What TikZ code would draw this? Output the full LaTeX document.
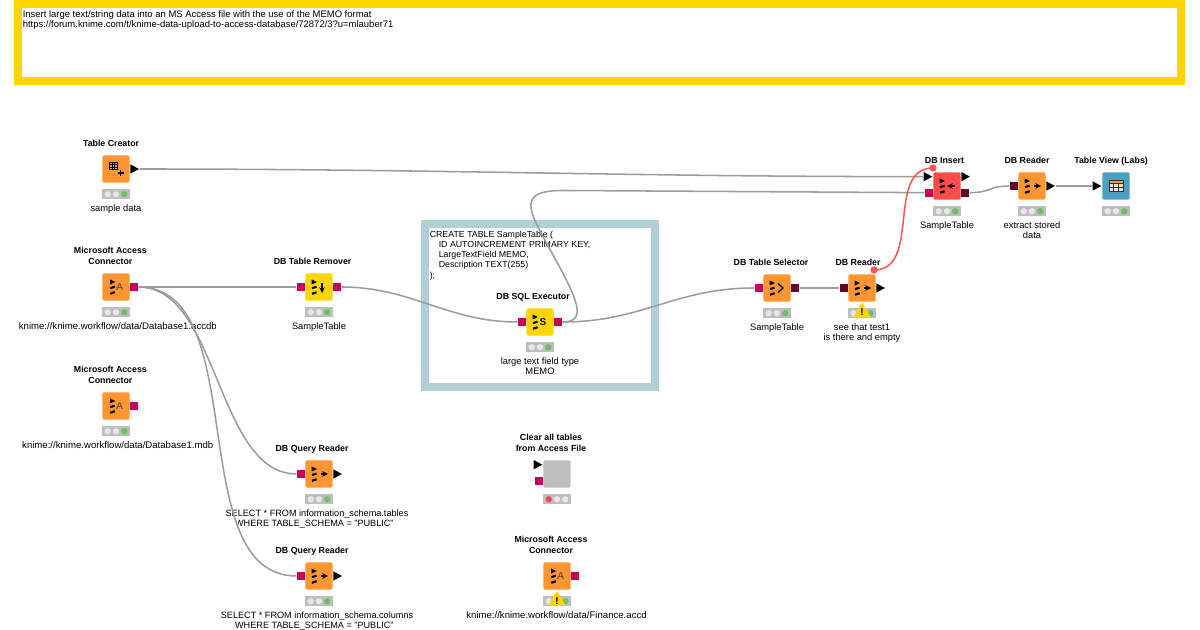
\documentclass[tikz,border=0pt]{standalone}
\usepackage{fontspec}
\setmainfont{Liberation Sans}
\usetikzlibrary{positioning,shapes.geometric}

\definecolor{nodeorange}{HTML}{FF9632}
\definecolor{nodeyellow}{HTML}{FFD500}
\definecolor{nodered}{HTML}{FF4B4B}
\definecolor{nodeblue}{HTML}{4C9FBF}
\definecolor{nodegrey}{HTML}{BEBEBE}
\definecolor{dbpink}{HTML}{C9005B}
\definecolor{dbdark}{HTML}{660033}
\definecolor{notesea}{HTML}{B3CFD6}
\definecolor{lampoff}{HTML}{E6E6E6}
\definecolor{lampgreen}{HTML}{6CC05F}
\definecolor{lampred}{HTML}{F0484E}
\definecolor{wire}{HTML}{9C9C9C}
\definecolor{flowred}{HTML}{FF5555}

% status bar under a node: name, then the three lamps
\newcommand{\lights}[4]{
    \node[lightbar] (#1st) [below=4.5pt of #1] {};
    \node[lamp,fill=#2] (#1la) at ([xshift=-6.2pt]#1st.center) {};
    \node[lamp,fill=#3] (#1lb) at (#1st.center) {};
    \node[lamp,fill=#4] (#1lc) at ([xshift=6.2pt]#1st.center) {};
}

\tikzset{
    knode/.style={rectangle,rounded corners=1.2pt,minimum size=20.6pt,inner sep=0pt},
    title/.style={font=\fontsize{6.6}{8.25}\selectfont\bfseries,align=center,inner sep=0pt,
        execute at begin node=\strut,above=3.5pt of #1},
    caption/.style={font=\fontsize{7}{7.7}\selectfont,align=center,inner sep=0pt,
        execute at begin node=\strut,below=3.6pt of #1},
    pathtext/.style={font=\fontsize{7.2}{7.7}\selectfont},
    sqltext/.style={font=\fontsize{6.85}{7.7}\selectfont},
    lightbar/.style={rectangle,fill=nodegrey,minimum width=20.6pt,minimum height=7.5pt,inner sep=0pt},
    lamp/.style={circle,minimum size=4.8pt,inner sep=0pt},
    dbport/.style={rectangle,minimum size=6pt,inner sep=0pt},
    tabport/.style={isosceles triangle,isosceles triangle stretches,minimum width=7pt,
        minimum height=6.5pt,inner sep=0pt,fill=black},
    varport/.style={circle,fill=flowred,minimum size=5.4pt,inner sep=0pt},
    conn/.style={draw=wire,line width=1.15pt},
    warnsign/.style={isosceles triangle,isosceles triangle stretches,shape border rotate=90,
        minimum width=13pt,minimum height=11pt,inner sep=0pt,fill=nodeyellow,rounded corners=.8pt},
    warnmark/.style={font=\fontsize{7.5}{7.5}\selectfont\bfseries,inner sep=0pt},
    dbstack/.pic={
        \fill (-7.3,-7.5) -- (-2,-5) -- (-7.3,-2.5) -- cycle;
        \draw[line width=1.6pt] (-7,1.2) -- (-2.4,-.4);
        \draw[line width=1.6pt] (-7,6.8) -- (-2.4,5.2);
    },
    gridglyph/.pic={
        \draw[line width=.5pt] (-6.5,-7) rectangle (1,.5)
            (-4,-7) -- (-4,.5) (-1.5,-7) -- (-1.5,.5)
            (-6.5,-4.5) -- (1,-4.5) (-6.5,-2) -- (1,-2);
    },
}

\begin{document}
\begin{tikzpicture}[x=0.75pt,y=-0.75pt]
    \path[fill=white,use as bounding box] (0,0) rectangle (1200,630);

    % annotations
    \node[draw=nodeyellow,line width=6.2pt,minimum width=872.2pt,minimum height=57.7pt,inner sep=0pt] (memonote) at (599.5,42.5) {};
    \node[font=\fontsize{7.1}{7.7}\selectfont,align=left,anchor=north west,inner sep=0pt,execute at begin node=\strut] (memotext) at (22.5,10.5) {Insert large text/string data into an MS Access file with the use of the MEMO format\\https://forum.knime.com/t/knime-data-upload-to-access-database/72872/3?u=mlauber71};
    \node[draw=notesea,line width=6.2pt,minimum width=172.5pt,minimum height=122.5pt,inner sep=0pt] (sqlnote) at (540,305.5) {};
    \node[font=\fontsize{6.6}{7.7}\selectfont,align=left,anchor=north west,inner sep=0pt,execute at begin node=\strut] (sqlcode) at (429.5,230.5) {CREATE TABLE SampleTable (\\\hspace*{6.75pt}ID AUTOINCREMENT PRIMARY KEY,\\\hspace*{6.75pt}LargeTextField MEMO,\\\hspace*{6.75pt}Description TEXT(255)\\);};

    % nodes
    \node[knode,fill=nodeorange] (creator) at (116,169) {};
    \node[knode,fill=nodeorange] (access) at (116,287) {};
    \node[knode,fill=nodeorange] (accessmdb) at (116,406) {};
    \node[knode,fill=nodeyellow] (remover) at (319,287) {};
    \node[knode,fill=nodeyellow] (executor) at (540,322) {};
    \node[knode,fill=nodeorange] (selector) at (777,288) {};
    \node[knode,fill=nodeorange] (reader) at (862,288) {};
    \node[knode,fill=nodered] (insert) at (947,186) {};
    \node[knode,fill=nodeorange] (stored) at (1032,186) {};
    \node[knode,fill=nodeblue] (view) at (1116,186) {};
    \node[knode,fill=nodeorange] (tables) at (319,474) {};
    \node[knode,fill=nodeorange] (columns) at (319,576) {};
    \node[knode,fill=nodegrey] (clear) at (557,474) {};
    \node[knode,fill=nodeorange] (finance) at (557,576) {};

    % ports
    \node[tabport,anchor=west] (creatorout) at (creator.east) {};
    \node[dbport,fill=dbpink,anchor=west] (accessout) at (access.east) {};
    \node[dbport,fill=dbpink,anchor=west] (accessmdbout) at (accessmdb.east) {};
    \node[dbport,fill=dbpink,anchor=east] (removerin) at (remover.west) {};
    \node[dbport,fill=dbpink,anchor=west] (removerout) at (remover.east) {};
    \node[dbport,fill=dbpink,anchor=east] (executorin) at (executor.west) {};
    \node[dbport,fill=dbpink,anchor=west] (executorout) at (executor.east) {};
    \node[dbport,fill=dbpink,anchor=east] (selectorin) at (selector.west) {};
    \node[dbport,fill=dbdark,anchor=west] (selectorout) at (selector.east) {};
    \node[dbport,fill=dbdark,anchor=east] (readerin) at (reader.west) {};
    \node[tabport,anchor=west] (readerout) at (reader.east) {};
    \node[tabport,anchor=east] (inserttab) at ([yshift=7pt]insert.west) {};
    \node[dbport,fill=dbpink,anchor=east] (insertdb) at ([yshift=-5pt]insert.west) {};
    \node[tabport,anchor=west] (inserttabout) at ([yshift=7pt]insert.east) {};
    \node[dbport,fill=dbdark,anchor=west] (insertout) at ([yshift=-5pt]insert.east) {};
    \node[dbport,fill=dbdark,anchor=east] (storedin) at (stored.west) {};
    \node[tabport,anchor=west] (storedout) at (stored.east) {};
    \node[tabport,anchor=east] (viewin) at (view.west) {};
    \node[dbport,fill=dbpink,anchor=east] (tablesin) at (tables.west) {};
    \node[tabport,anchor=west] (tablesout) at (tables.east) {};
    \node[dbport,fill=dbpink,anchor=east] (columnsin) at (columns.west) {};
    \node[tabport,anchor=west] (columnsout) at (columns.east) {};
    \node[tabport,anchor=east] (cleartab) at ([yshift=7pt]clear.west) {};
    \node[dbport,fill=dbpink,anchor=east] (cleardb) at ([yshift=-5pt]clear.west) {};
    \node[dbport,fill=dbpink,anchor=west] (financeout) at (finance.east) {};

    % icons
    \pic at (creator) {gridglyph};
    \draw[line width=1.2pt] (120.5,170) -- (120.5,176) (117.5,173) -- (123.5,173);
    \pic at (117.3,287) {dbstack};
    \pic at (117.3,406) {dbstack};
    \pic at (558.3,576) {dbstack};
    \pic at (remover) {dbstack};
    \pic at (executor) {dbstack};
    \pic at (selector) {dbstack};
    \pic at (reader) {dbstack};
    \pic at (insert) {dbstack};
    \pic at (stored) {dbstack};
    \pic at (tables) {dbstack};
    \pic at (columns) {dbstack};
    \node[font=\fontsize{7.5}{8}\selectfont,text=black!75,inner sep=0pt] (accessa) at (119.7,287.5) {A};
    \node[font=\fontsize{7.5}{8}\selectfont,text=black!75,inner sep=0pt] (accessmdba) at (119.7,406.5) {A};
    \node[font=\fontsize{7.5}{8}\selectfont,text=black!75,inner sep=0pt] (financea) at (560.7,576.5) {A};
    \node[font=\fontsize{7.5}{8}\selectfont\bfseries,inner sep=0pt] (executors) at (543,322.5) {S};
    \draw[line width=.9pt,-stealth] (322,283) -- (322,293);
    \draw[line width=1pt] (778,283.5) -- (783,288) -- (778,292.5);
    \draw[line width=.9pt,-stealth] (864,288) -- (871,288);
    \draw[line width=.9pt,-stealth] (955,186) -- (947,186);
    \draw[line width=.9pt,-stealth] (1034,186) -- (1041,186);
    \draw[line width=.9pt,-stealth] (321,474) -- (328,474);
    \draw[line width=.9pt,-stealth] (321,576) -- (328,576);
    \fill[white!88!black] (1109,183) rectangle (1123,191);
    \fill[nodeorange] (1109,180) rectangle (1123,183.5);
    \draw[line width=.4pt,black!80] (1109,180) rectangle (1123,191.5) (1109,183.5) -- (1123,183.5) (1109,187.5) -- (1123,187.5) (1113.7,183.5) -- (1113.7,191.5) (1118.3,183.5) -- (1118.3,191.5);

    % status
    \lights{creator}{lampoff}{lampoff}{lampgreen}
    \lights{access}{lampoff}{lampoff}{lampgreen}
    \lights{accessmdb}{lampoff}{lampoff}{lampgreen}
    \lights{remover}{lampoff}{lampoff}{lampgreen}
    \lights{executor}{lampoff}{lampoff}{lampgreen}
    \lights{selector}{lampoff}{lampoff}{lampgreen}
    \lights{reader}{lampoff}{lampoff}{lampgreen}
    \lights{insert}{lampoff}{lampoff}{lampgreen}
    \lights{stored}{lampoff}{lampoff}{lampgreen}
    \lights{view}{lampoff}{lampoff}{lampgreen}
    \lights{tables}{lampoff}{lampoff}{lampgreen}
    \lights{columns}{lampoff}{lampoff}{lampgreen}
    \lights{clear}{lampred}{lampoff}{lampoff}
    \lights{finance}{lampoff}{lampoff}{lampgreen}
    \node[warnsign] (readerwarn) at (862,312) {};
    \node[warnmark] (readermark) at (862,312.5) {!};
    \node[warnsign] (financewarn) at (557,600.5) {};
    \node[warnmark] (financemark) at (557,601) {!};

    % titles
    \node[title=creator,xshift=-3.7pt] (creatort) {Table Creator};
    \node[title=access,xshift=-4.2pt] (accesst) {Microsoft Access\\Connector};
    \node[title=accessmdb,xshift=-4.2pt] (accessmdbt) {Microsoft Access\\Connector};
    \node[title=remover,xshift=-4.8pt] (removert) {DB Table Remover};
    \node[title=executor,xshift=-5.2pt] (executort) {DB SQL Executor};
    \node[title=selector,xshift=-4.5pt] (selectort) {DB Table Selector};
    \node[title=reader,xshift=-3pt] (readert) {DB Reader};
    \node[title=insert,xshift=-1.9pt] (insertt) {DB Insert};
    \node[title=stored,xshift=-3.7pt] (storedt) {DB Reader};
    \node[title=view,xshift=-3.7pt] (viewt) {Table View (Labs)};
    \node[title=tables,xshift=-5.2pt] (tablest) {DB Query Reader};
    \node[title=columns,xshift=-5.2pt] (columnst) {DB Query Reader};
    \node[title=clear,xshift=-4.5pt] (cleart) {Clear all tables\\from Access File};
    \node[title=finance,xshift=-4.5pt] (financet) {Microsoft Access\\Connector};

    % captions
    \node[caption=creatorst] (creatorc) {sample data};
    \begin{scope}
        \clip (15,315) rectangle (215,338);
        \node[caption=accessst,pathtext,xshift=1.4pt] (accessc) {knime://knime.workflow/data/Database1.accdb};
    \end{scope}
    \begin{scope}
        \clip (15,434) rectangle (212,457);
        \node[caption=accessmdbst,pathtext,xshift=1.3pt] (accessmdbc) {knime://knime.workflow/data/Database1.mdb};
    \end{scope}
    \node[caption=removerst] (removerc) {SampleTable};
    \node[caption=executorst] (executorc) {large text field type\\MEMO};
    \node[caption=selectorst] (selectorc) {SampleTable};
    \node[caption=readerst] (readerc) {see that test1\\is there and empty};
    \node[caption=insertst] (insertc) {SampleTable};
    \node[caption=storedst] (storedc) {extract stored\\data};
    \node[caption=tablesst,sqltext,xshift=-1.5pt] (tablesc) {SELECT * FROM information\_schema.tables\\WHERE TABLE\_SCHEMA = "PUBLIC"\hspace*{4pt}};
    \node[caption=columnsst,sqltext,xshift=-1.5pt] (columnsc) {SELECT * FROM information\_schema.columns\\WHERE TABLE\_SCHEMA = "PUBLIC"\hspace*{4pt}};
    \begin{scope}
        \clip (460,604) rectangle (646.5,627);
        \node[caption=financest,pathtext,xshift=1.65pt] (financec) {knime://knime.workflow/data/Finance.accdb};
    \end{scope}

    % connections
    \draw[conn] (creatorout.east) .. controls +(300,0) and +(-300,0) .. (inserttab.west);
    \draw[conn] (accessout.east) -- (removerin.west);
    \draw[conn] (accessout.east) .. controls +(80,0) and +(-80,0) .. (tablesin.west);
    \draw[conn] (accessout.east) .. controls +(115,0) and +(-115,0) .. (columnsin.west);
    \draw[conn] (removerout.east) .. controls +(70,0) and +(-70,0) .. (executorin.west);
    \draw[conn] (executorout.east) .. controls +(80,0) and +(-80,0) .. (selectorin.west);
    \coordinate (loopbend) at (553,255);
    \draw[conn] (executorout.east) .. controls +(25,0) and (578,300) .. (loopbend) .. controls (530,212) and (513,190) .. (565,190.5) -- (insertdb.west);
    \draw[conn] (selectorout.east) -- (readerin.west);
    \draw[conn] (insertout.east) .. controls +(22,0) and +(-22,0) .. (storedin.west);
    \draw[conn] (storedout.east) -- (viewin.west);
    \node[varport] (readervar) at (874,270) {};
    \node[varport] (insertvar) at (933,168) {};
    \draw[draw=flowred,line width=1.15pt] (readervar.center) .. controls +(48,0) and +(-48,0) .. (insertvar.center);
\end{tikzpicture}
\end{document}
